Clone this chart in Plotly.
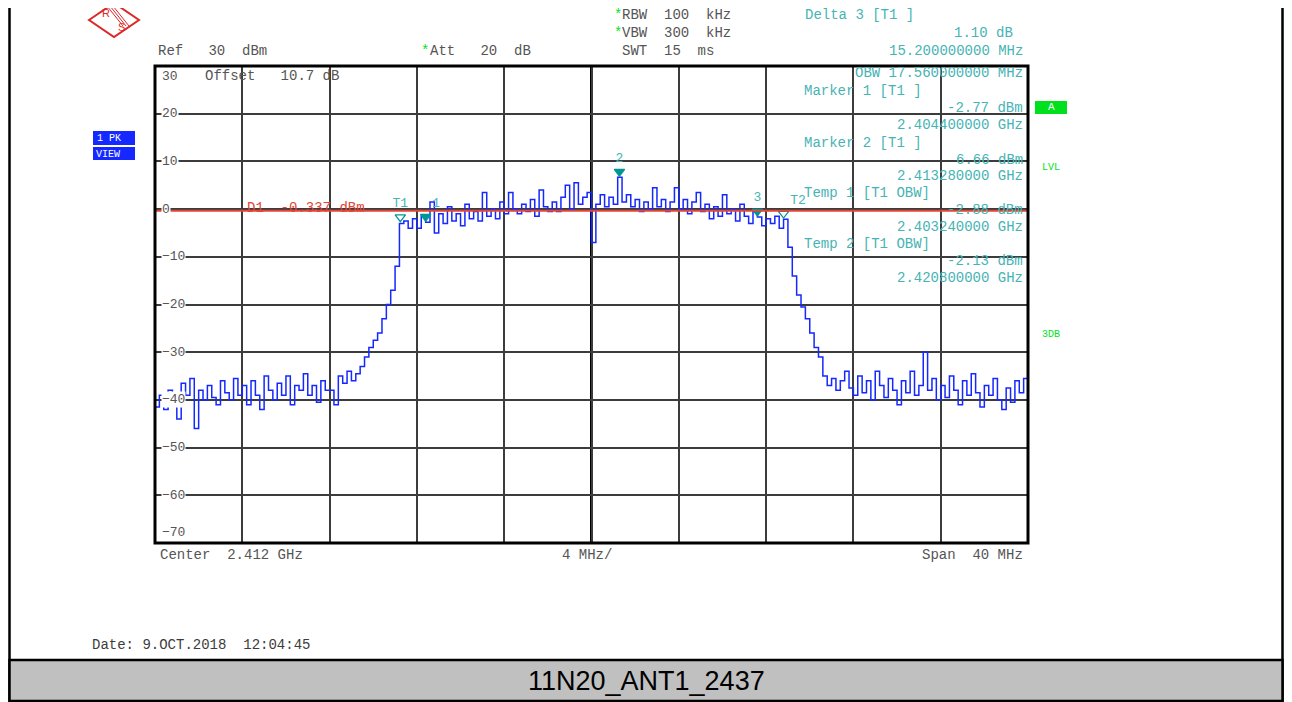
import numpy as np
import plotly.graph_objects as go

# ---------------- data ----------------
center_ghz = 2.412
span_ghz = 0.040
n_points = 201

level_dbm = [
    # 2.392 - 2.396
    -41.5, -39, -42, -38, -40, -44, -36.5, -39, -35.5, -46, -38, -40, -37, -39.5, -41, -36, -38.5, -40, -35.5, -39,
    # 2.396 - 2.400
    -37, -41, -36, -39, -42, -35, -38, -40, -36.5, -39, -35, -41, -37, -38, -34.5, -39, -37, -40.5, -36, -38,
    # 2.400 - 2.404
    -38, -41, -35, -36.5, -34, -36, -34.5, -33, -31, -29, -27.5, -26, -23, -20, -17, -12, -3, -2.5, -4, -2,
    # 2.404 - 2.408
    -4, -1.5, -2.77, 1.5, -5, -1, -3, 0.5, -2.5, -1, -3.5, 1, -2, -0.5, -2.5, 3.5, -1.5, 0, -2, 1.5,
    # 2.408 - 2.412
    -1, 3.5, 0, -1, 1, -0.5, 2, -1.5, 4, 0.5, -0.5, 1.5, -0.5, 2.5, 5, 0, 5.5, 1, 2.5, 3.5,
    # 2.412 - 2.416
    -7, 1, 3, 0.5, 2.5, 1, 6.66, 1.5, 3, 0.5, 2, -0.5, 1.5, 0, 4.5, 0.5, 2, -0.5, 1.5, 4.5,
    # 2.416 - 2.420
    0, 2, -1, 1.5, 3.5, -0.5, 1, -2, 0.5, -1.5, 3, -1, 0, -2.5, 1, -1.5, -3, -0.5, -1.67, -3.5,
    # 2.420 - 2.424
    -2, -3, -1.5, -4, -2.13, -8, -14, -18, -20.5, -23, -26, -29, -31, -35, -37, -35.5, -38, -36, -34, -37.5,
    # 2.424 - 2.428
    -39, -35, -38.5, -36, -40, -34, -37, -39.5, -35.5, -38, -41, -36, -38.5, -34, -39, -37, -30, -38, -35.5, -40,
    # 2.428 - 2.432
    -37, -39.5, -35, -38, -41, -36, -39, -34.5, -38.5, -41.5, -37, -39, -35.5, -40, -42, -37.5, -40.5, -36, -38.5, -35.5,
    -39,
]

display_line_dbm = -0.337
y_ticks = [30, 20, 10, 0, -10, -20, -30, -40, -50, -60, -70]

marker_names = ["T1", "1", "2", "3", "T2"]
marker_freq_ghz = [2.40324, 2.4044, 2.41328, 2.4196, 2.4208]
marker_level_dbm = [-2.88, -2.77, 6.66, -1.67, -2.13]
marker_symbols = ["triangle-down-open", "triangle-down", "triangle-down", "triangle-down", "triangle-down-open"]
marker_textpos = ["top center", "top right", "top center", "top center", "top right"]

header_grey = [
    ("RBW  100  kHz", 620, 15), ("VBW  300  kHz", 620, 33), ("SWT  15  ms", 620, 51),
    ("Ref   30  dBm", 156, 51), ("Att   20  dB", 428, 51),
]
header_stars = [(612, 15), (612, 33), (419, 51)]

info_left = [
    ("Delta 3 [T1 ]", 803, 15),
    ("Marker 1 [T1 ]", 802, 91),
    ("Marker 2 [T1 ]", 802, 143),
    ("Temp 1 [T1 OBW]", 802, 193),
    ("Temp 2 [T1 OBW]", 802, 244),
]
info_right = [
    ("1.10 dB", 1015, 33), ("15.200000000 MHz", 1025, 51),
    ("OBW 17.560000000 MHz", 1025, 73),
    ("-2.77 dBm", 1025, 108), ("2.404400000 GHz", 1025, 125),
    ("6.66 dBm", 1025, 160), ("2.413280000 GHz", 1025, 176),
    ("-2.88 dBm", 1025, 210), ("2.403240000 GHz", 1025, 227),
    ("-2.13 dBm", 1025, 261), ("2.420800000 GHz", 1025, 278),
]

# ---------------- layout helpers ----------------
PAGE_OFF = 8                      # default body margin of the html page
W, H = 1292 - PAGE_OFF, 702 - PAGE_OFF
L, R, T, B = 155, 1028, 66, 543   # plot area in screenshot pixels


def px(x):
    return (x - L) / (R - L)


def py(y):
    return (B - y) / (B - T)


MONO = "Liberation Mono, DejaVu Sans Mono, monospace"
GREY = "rgb(85,85,85)"
TEAL = "rgb(70,180,180)"
GREEN = "rgb(0,225,30)"
BLUE = "rgb(20,40,255)"
RED = "rgb(225,70,55)"

freq = np.linspace(center_ghz - span_ghz / 2, center_ghz + span_ghz / 2, n_points)

fig = go.Figure()
fig.add_trace(go.Scatter(
    x=freq, y=level_dbm, mode="lines", line=dict(color=BLUE, width=1.5, shape="hv"),
    hoverinfo="skip", showlegend=False,
))
fig.add_trace(go.Scatter(
    x=marker_freq_ghz, y=[v + 1.2 for v in marker_level_dbm], mode="markers+text",
    marker=dict(symbol=marker_symbols, size=9, color="rgb(0,150,150)",
                line=dict(color="rgb(0,150,150)", width=1.3)),
    text=marker_names, textposition=marker_textpos,
    textfont=dict(family=MONO, size=13, color=TEAL),
    hoverinfo="skip", showlegend=False,
))

shapes = []
# outer frame sides (top edge lies outside the drawable figure)
shapes.append(dict(type="path", xref="paper", yref="paper",
                   path=f"M {px(9.5)} {py(8)} L {px(9.5)} {py(701)} L {px(1282.5)} {py(701)} L {px(1282.5)} {py(8)}",
                   line=dict(color="black", width=2.5), layer="below"))
# bottom grey band
shapes.append(dict(type="rect", xref="paper", yref="paper", x0=px(9.5), x1=px(1282.5), y0=py(701), y1=py(660),
                   fillcolor="rgb(192,192,192)", line=dict(color="black", width=2.5), layer="below"))
# display line
shapes.append(dict(type="line", xref="paper", yref="y", x0=0, x1=1, y0=display_line_dbm, y1=display_line_dbm,
                   line=dict(color=RED, width=2)))
# center line thicker
shapes.append(dict(type="line", xref="x", yref="paper", x0=center_ghz, x1=center_ghz, y0=0, y1=1,
                   line=dict(color="black", width=3), layer="below"))
# plot border
shapes.append(dict(type="rect", xref="paper", yref="paper", x0=0, x1=1, y0=0, y1=1,
                   line=dict(color="black", width=3)))

# R&S logo
cx, cy, hw, hh = 114, 20, 25, 17
shapes.append(dict(type="path", xref="paper", yref="paper",
                   path=f"M {px(cx-hw)} {py(cy)} L {px(cx)} {py(cy-hh)} L {px(cx+hw)} {py(cy)} L {px(cx)} {py(cy+hh)} Z",
                   line=dict(color="rgb(220,40,40)", width=2)))
for d in (-3, 0, 3):
    shapes.append(dict(type="line", xref="paper", yref="paper",
                       x0=px(cx - 4 + d), y0=py(cy - 14), x1=px(cx + 12 + d), y1=py(cy + 6),
                       line=dict(color="rgb(220,40,40)", width=1)))

# left side blue boxes, right side green box
shapes.append(dict(type="rect", xref="paper", yref="paper", x0=px(93), x1=px(135), y0=py(145), y1=py(131),
                   fillcolor=BLUE, line=dict(width=0)))
shapes.append(dict(type="rect", xref="paper", yref="paper", x0=px(93), x1=px(135), y0=py(160), y1=py(147),
                   fillcolor=BLUE, line=dict(width=0)))
shapes.append(dict(type="rect", xref="paper", yref="paper", x0=px(1035), x1=px(1067), y0=py(114), y1=py(101),
                   fillcolor=GREEN, line=dict(width=0)))

ann = []


def text(t, x, y, color=GREY, size=14, anchor="left", family=MONO, bg=None):
    d = dict(text=t.replace(" ", "\u00a0"), x=px(x), y=py(y), xref="paper", yref="paper",
             xanchor=anchor, yanchor="middle", showarrow=False,
             font=dict(family=family, size=size, color=color))
    if bg:
        d["bgcolor"] = bg
        d["borderpad"] = 0
    ann.append(d)


for t, x, y in header_grey:
    text(t, x, y)
for x, y in header_stars:
    text("*", x, y, color=GREEN)
for t, x, y in info_left:
    text(t, x, y, color=TEAL)
for t, x, y in info_right:
    text(t, x, y, color=TEAL, anchor="right")

# y tick labels inside plot
for v in y_ticks:
    ypix = B - (v + 70) / 100 * (B - T)
    if v == 30:
        ypix += 10
    if v == -70:
        ypix -= 11
    label = str(v).replace("-", "\u2212")
    text(label, 161, ypix, bg="white", size=13)

text("Offset   10.7 dB", 203, 76)
text("D1  -0.337 dBm", 245, 208, color=RED)
text("Center  2.412 GHz", 158, 555)
text("4 MHz/", 560, 555)
text("Span  40 MHz", 1025, 555, anchor="right")
text("Date: 9.OCT.2018  12:04:45", 90, 645, color="rgb(60,60,60)", size=14)
text("1 PK", 95, 138, color="white", size=10)
text("VIEW", 94, 154, color="white", size=10)
text("A", 1051, 107, color="white", size=11, anchor="center")
text("LVL", 1040, 168, color=GREEN, size=10)
text("3DB", 1040, 334, color=GREEN, size=10)
text("R", 106, 13, color="rgb(220,40,40)", size=11, anchor="center", family="Liberation Sans, Arial")
text("S", 121, 27, color="rgb(220,40,40)", size=11, anchor="center", family="Liberation Sans, Arial")
ann.append(dict(text="11N20_ANT1_2437", x=px(646), y=py(681), xref="paper", yref="paper",
                xanchor="center", yanchor="middle", showarrow=False,
                font=dict(family="Liberation Sans Narrow, Liberation Sans, Arial", size=27, color="black")))

fig.update_layout(
    width=W, height=H,
    margin=dict(l=L - PAGE_OFF, r=W - (R - PAGE_OFF), t=T - PAGE_OFF, b=H - (B - PAGE_OFF)),
    paper_bgcolor="white", plot_bgcolor="white",
    shapes=shapes, annotations=ann,
    xaxis=dict(range=[center_ghz - span_ghz / 2, center_ghz + span_ghz / 2], dtick=0.004, tick0=2.392,
               showgrid=True, gridcolor="rgb(60,60,60)", gridwidth=1.6, showticklabels=False,
               zeroline=False, showline=False, fixedrange=True),
    yaxis=dict(range=[-70, 30], dtick=10, tick0=-70, showgrid=True, gridcolor="rgb(60,60,60)", gridwidth=1.6,
               showticklabels=False, zeroline=False, showline=False, fixedrange=True),
    showlegend=False,
)

fig.write_html("out.html")
